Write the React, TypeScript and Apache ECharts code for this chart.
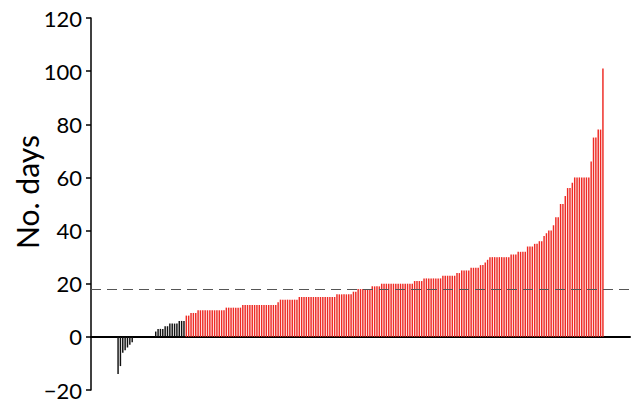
import React, { useEffect, useRef } from "react";
import * as echarts from "echarts";

// Values, in order left to right
const negativeValues = [-14, -11, -6, -5, -4, -3, -2];
const zeroValues = [0, 0, 0, 0, 0, 0, 0, 0, 0];
const blackPositiveValues = [2, 3, 3, 3, 4, 4, 5, 5, 5, 5, 6, 6, 6];
const redValues = [
  8, 8,
  9, 9, 9,
  10, 10, 10, 10, 10, 10, 10, 10, 10, 10, 10, 10,
  11, 11, 11, 11, 11, 11, 11,
  12, 12, 12, 12, 12, 12, 12, 12, 12, 12, 12, 12, 12, 12, 12,
  13,
  14, 14, 14, 14, 14, 14, 14, 14,
  15, 15, 15, 15, 15, 15, 15, 15, 15, 15, 15, 15, 15, 15, 15, 15,
  16, 16, 16, 16, 16, 16, 16,
  17, 17,
  18, 18, 18, 18, 18, 18,
  19, 19, 19, 19,
  20, 20, 20, 20, 20, 20, 20, 20, 20, 20, 20, 20, 20, 20,
  21, 21, 21, 21,
  22, 22, 22, 22, 22, 22, 22, 22,
  23, 23, 23, 23, 23, 23,
  24, 24,
  25, 25, 25, 25,
  26, 26, 26, 26,
  27, 27,
  28, 29,
  30, 30, 30, 30, 30, 30, 30, 30, 30,
  31, 31, 31,
  32, 32, 32, 32,
  34, 34, 34,
  35, 35,
  36, 36,
  38, 39, 40, 40, 42, 45, 45, 50, 50, 53, 56, 56, 58,
  60, 60, 60, 60, 60, 60, 60,
  66, 75, 75, 78, 78, 101,
];
const medianLine = 18;
const yTicks = { min: -20, max: 120, interval: 20 };
const yAxisTitle = "No. days";
const emptySlotsEachSide = 11;

const BLACK = "#111111";
const RED = "#ee2a24";

export default function App() {
  const ref = useRef<HTMLDivElement>(null);

  useEffect(() => {
    if (!ref.current) return;
    const chart = echarts.init(ref.current, undefined, { renderer: "svg" });

    const blackPart = [...negativeValues, ...zeroValues, ...blackPositiveValues];
    const items: any[] = [];
    for (let i = 0; i < emptySlotsEachSide; i++) items.push(null);
    blackPart.forEach((v) => items.push({ value: v, itemStyle: { color: BLACK } }));
    redValues.forEach((v) => items.push({ value: v, itemStyle: { color: RED } }));
    for (let i = 0; i < emptySlotsEachSide; i++) items.push(null);
    const categories = items.map((_, i) => String(i));

    chart.setOption({
      animation: false,
      backgroundColor: "#ffffff",
      grid: { left: 91, right: 4, top: 18, bottom: 13, containLabel: false },
      graphic: [
        {
          type: "text",
          x: 27,
          y: 192,
          rotation: Math.PI / 2,
          style: {
            text: yAxisTitle,
            fontSize: 30,
            fontFamily: "Lato",
            fill: "#000",
            textAlign: "center",
            textVerticalAlign: "middle",
          },
        },
      ],
      xAxis: {
        type: "category",
        data: categories,
        boundaryGap: true,
        axisLine: { show: true, onZero: true, lineStyle: { color: "#000", width: 2 } },
        axisTick: { show: false },
        axisLabel: { show: false },
        splitLine: { show: false },
      },
      yAxis: {
        type: "value",
        min: yTicks.min,
        max: yTicks.max,
        interval: yTicks.interval,
        axisLine: { show: true, lineStyle: { color: "#000", width: 1.5 } },
        axisTick: { show: true, length: 5, lineStyle: { color: "#000", width: 1.5 } },
        splitLine: { show: false },
        axisLabel: {
          fontSize: 22,
          color: "#000",
          fontFamily: "Lato",
          margin: 9,
          formatter: (v: number) => (v < 0 ? "\u2212" + Math.abs(v) : String(v)),
        },
      },
      series: [
        {
          type: "bar",
          data: items,
          barWidth: "62%",
          markLine: {
            silent: true,
            symbol: ["none", "none"],
            label: { show: false },
            lineStyle: { color: "#555", type: [10, 6], width: 1.2 },
            data: [{ yAxis: medianLine }],
          },
        },
      ],
    });

    return () => chart.dispose();
  }, []);

  return (
    <div
      ref={ref}
      style={{ position: "absolute", left: 0, top: 0, width: 634, height: 403 }}
    />
  );
}
